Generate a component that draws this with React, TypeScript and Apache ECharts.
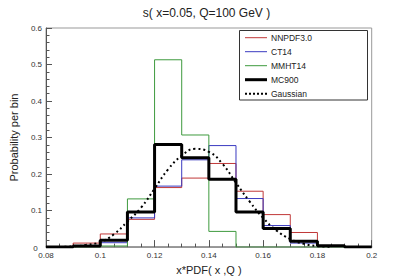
import React, { useEffect, useRef } from "react";
import * as echarts from "echarts";

const binEdges = [0.08, 0.09, 0.1, 0.11, 0.12, 0.13, 0.14, 0.15, 0.16, 0.17, 0.18, 0.19, 0.2];
const nnpdf = [0, 0.011, 0.036, 0.076, 0.163, 0.189, 0.229, 0.153, 0.089, 0.04, 0.004, 0];
const ct14 = [0, 0.004, 0.012, 0.08, 0.167, 0.239, 0.278, 0.133, 0.059, 0.011, 0.002, 0];
const mmht14 = [0, 0, 0.003, 0.132, 0.513, 0.307, 0.043, 0, 0, 0, 0, 0];
const mc900 = [0, 0.003, 0.019, 0.096, 0.281, 0.245, 0.186, 0.096, 0.051, 0.016, 0.004, 0];
const gaussX = [0.085, 0.09, 0.095, 0.1, 0.105, 0.11, 0.115, 0.12, 0.125, 0.13, 0.135, 0.14, 0.145, 0.15, 0.155, 0.16, 0.165, 0.17, 0.175, 0.18, 0.185];
const gaussY = [0.0005, 0.002, 0.006, 0.014, 0.035, 0.07, 0.108, 0.16, 0.213, 0.25, 0.269, 0.261, 0.228, 0.176, 0.125, 0.08, 0.045, 0.022, 0.009, 0.003, 0.001];
const legendNames = ["NNPDF3.0", "CT14", "MMHT14", "MC900", "Gaussian"];

const histPoints = (vals: number[]) => {
  const pts: number[][] = vals.map((v, i) => [binEdges[i], v]);
  pts.push([binEdges[binEdges.length - 1], vals[vals.length - 1]]);
  return pts;
};

const FONT = "Liberation Sans, Arial, Helvetica, sans-serif";
const COLORS = ["#c03838", "#3a3ac0", "#3e9a3e", "#000000", "#000000"];
const WIDTHS = [1, 1, 1, 3, 2];

export default function App() {
  const ref = useRef<HTMLDivElement>(null);
  useEffect(() => {
    if (!ref.current) return;
    const chart = echarts.init(ref.current, undefined, { renderer: "svg" });
    const histSeries = (name: string, vals: number[], color: string, width: number, z: number) => ({
      name,
      type: "line",
      step: "end",
      data: histPoints(vals),
      symbol: "none",
      lineStyle: { color, width },
      itemStyle: { color },
      z,
    });
    const graphics: any[] = [
      {
        type: "rect",
        shape: { x: 239.5, y: 30.5, width: 128, height: 69.5 },
        style: { fill: "#fff", stroke: "#333", lineWidth: 1 },
        z: 10,
      },
      {
        type: "text",
        x: 37.7,
        y: 248.5,
        style: {
          text: "0",
          fontSize: 8,
          fill: "#333",
          fontFamily: FONT,
          align: "right",
          verticalAlign: "middle",
        },
        z: 11,
      },
    ];
    legendNames.forEach((n, i) => {
      const y = 37.7 + i * 14;
      graphics.push({
        type: "line",
        shape: { x1: 245, y1: y, x2: 267, y2: y },
        style: {
          stroke: COLORS[i],
          lineWidth: WIDTHS[i],
          lineDash: i === 4 ? [2, 2] : null,
        },
        z: 11,
      });
      graphics.push({
        type: "text",
        x: 271,
        y,
        style: {
          text: n,
          fontSize: 8.5,
          fill: "#222",
          fontFamily: FONT,
          verticalAlign: "middle",
          align: "left",
        },
        z: 11,
      });
    });
    chart.setOption({
      animation: false,
      backgroundColor: "#ffffff",
      textStyle: { fontFamily: FONT },
      title: {
        text: "s( x=0.05, Q=100 GeV )",
        left: "center",
        top: 2,
        textStyle: { fontSize: 12, fontWeight: "normal", color: "#222", fontFamily: FONT },
      },
      grid: {
        left: 41.7,
        right: 41.3,
        top: 28,
        bottom: 28.3,
        show: true,
        borderColor: "#999",
        borderWidth: 1,
        backgroundColor: "transparent",
      },
      graphic: graphics,
      xAxis: {
        type: "value",
        min: 0.08,
        max: 0.2,
        interval: 0.02,
        name: "x*PDF( x ,Q )",
        nameLocation: "middle",
        nameGap: 14,
        nameTextStyle: { fontSize: 11, color: "#222", fontFamily: FONT },
        axisLine: { show: true, lineStyle: { color: "#888", width: 1.5 } },
        axisTick: { show: true, inside: true, length: 7, lineStyle: { color: "#555" } },
        minorTick: { show: true, splitNumber: 4, length: 3.5, lineStyle: { color: "#555" } },
        axisLabel: { fontSize: 8, color: "#333", margin: 4, fontFamily: FONT, showMinLabel: true, showMaxLabel: true },
        splitLine: { show: false },
      },
      yAxis: {
        type: "value",
        min: 0,
        max: 0.6,
        interval: 0.1,
        name: "Probability per bin",
        nameLocation: "middle",
        nameGap: 27,
        nameTextStyle: { fontSize: 11, color: "#222", fontFamily: FONT },
        axisLine: { show: true, lineStyle: { color: "#555", width: 1 } },
        axisTick: { show: true, inside: true, length: 6, lineStyle: { color: "#555" } },
        minorTick: { show: true, splitNumber: 5, length: 3.5, lineStyle: { color: "#555" } },
        axisLabel: {
          fontSize: 8,
          color: "#333",
          margin: 4,
          fontFamily: FONT,
          formatter: (v: number) => (v === 0 ? "" : String(Math.round(v * 10) / 10)),
        },
        splitLine: { show: false },
      },
      series: [
        histSeries("NNPDF3.0", nnpdf, COLORS[0], 1, 2),
        histSeries("CT14", ct14, COLORS[1], 1, 3),
        histSeries("MMHT14", mmht14, COLORS[2], 1, 4),
        histSeries("MC900", mc900, COLORS[3], 3, 5),
        {
          name: "Gaussian",
          type: "line",
          data: gaussX.map((x, i) => [x, gaussY[i]]),
          smooth: true,
          symbol: "none",
          lineStyle: { color: "#000", width: 2, type: [2, 3] },
          itemStyle: { color: "#000" },
          z: 6,
        },
      ],
    });
    return () => chart.dispose();
  }, []);
  return <div ref={ref} style={{ position: "absolute", left: 0, top: 0, width: 413, height: 280 }} />;
}
